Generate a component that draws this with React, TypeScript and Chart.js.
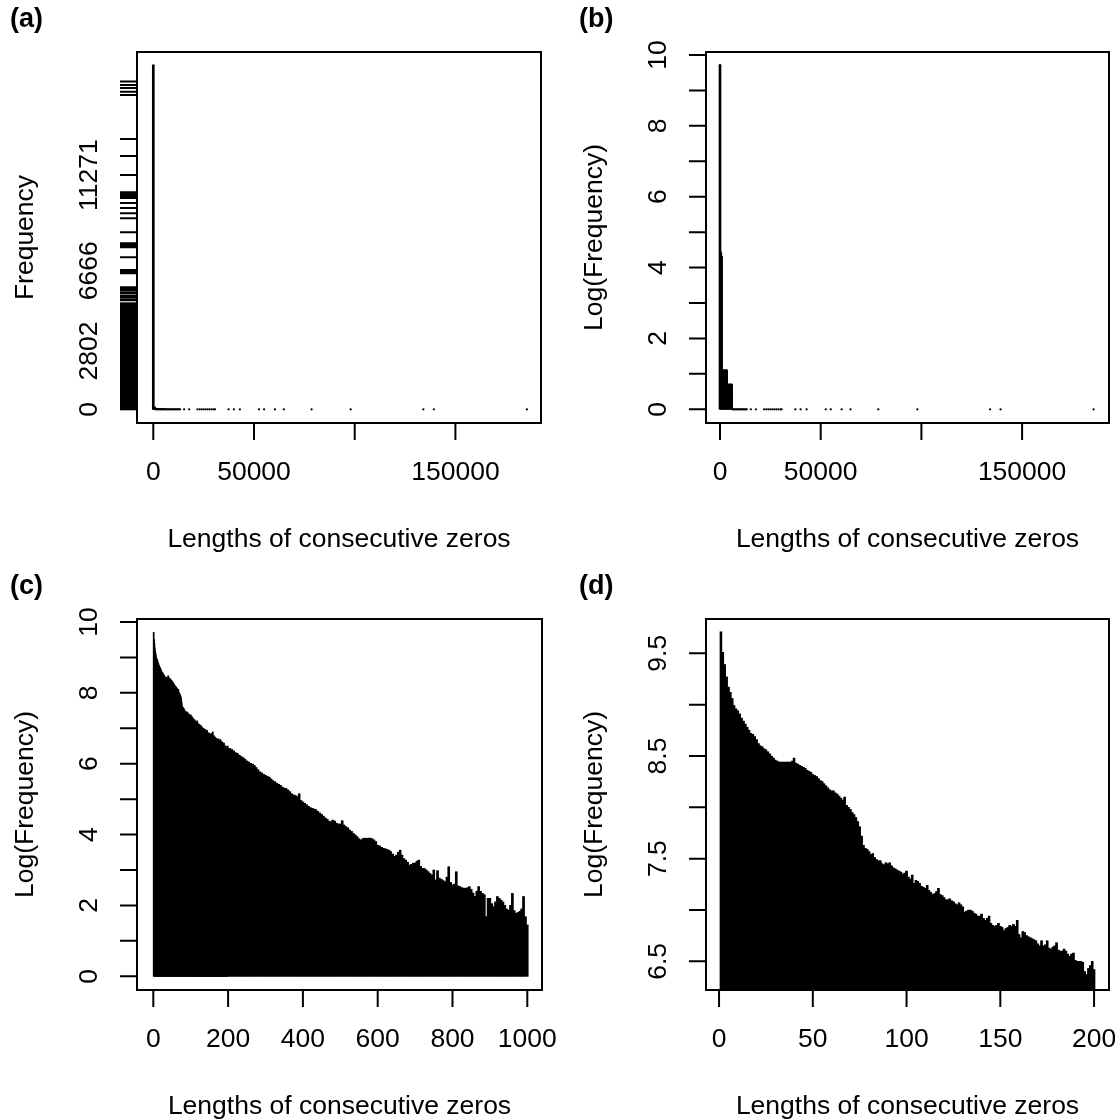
import React, { useEffect, useRef } from "react";
import { Chart, registerables } from "chart.js";

Chart.register(...registerables);

const W = 1115;
const H = 1119;
const FONT = '"Liberation Sans", Arial, Helvetica, sans-serif';

// ---------- data ----------
// Head of the distribution: lengths near zero and their frequencies
const headLengths = [1, 400, 800, 1300, 1800, 2300, 2800, 3300, 3800, 4300, 4800, 5300, 5800];
const headFreq = [16550, 83, 74, 3, 3, 3, 3, 3, 2, 2, 2, 2, 2];
// lengths seen once, forming the continuous baseline
const baseLengths = [6300, 6800, 7300, 7800, 8300, 8800, 9300, 9800, 10300, 10800, 11300, 11800, 12300, 12800, 13260];
const baseFreq = [1, 1, 1, 1, 1, 1, 1, 1, 1, 1, 1, 1, 1, 1, 1];
// sparse long runs (dots)
const tailLengths = [15300, 17800, 21900, 23000, 24000, 25000, 26000, 27000, 28000, 29000, 30000, 30600, 37400, 40000, 43000, 52500, 55000, 60400, 64800, 78600, 98000, 134100, 139300, 185500];
const tailFreq = [1, 1, 1, 1, 1, 1, 1, 1, 1, 1, 1, 1, 1, 1, 1, 1, 1, 1, 1, 1, 1, 1, 1, 1];

// Log(Frequency) for lengths 1..200
const shortLengths = Array.from({ length: 200 }, (_, i) => i + 1);
const shortLogFreq = [
  9.71, 9.51, 9.39, 9.27, 9.17, 9.12, 9.06, 8.99, 8.96, 8.94,
  8.91, 8.87, 8.84, 8.81, 8.78, 8.75, 8.72, 8.71, 8.69, 8.66,
  8.62, 8.60, 8.59, 8.57, 8.56, 8.54, 8.52, 8.50, 8.48, 8.46,
  8.45, 8.44, 8.44, 8.44, 8.44, 8.44, 8.44, 8.44, 8.45, 8.48,
  8.43, 8.42, 8.41, 8.40, 8.39, 8.38, 8.36, 8.35, 8.34, 8.32,
  8.31, 8.30, 8.28, 8.26, 8.25, 8.23, 8.21, 8.19, 8.17, 8.16,
  8.16, 8.14, 8.13, 8.11, 8.09, 8.07, 8.10, 8.02, 8.00, 7.98,
  7.95, 7.93, 7.90, 7.86, 7.81, 7.72, 7.63, 7.60, 7.59, 7.57,
  7.54, 7.55, 7.51, 7.49, 7.48, 7.48, 7.45, 7.44, 7.46, 7.45,
  7.46, 7.43, 7.41, 7.40, 7.39, 7.38, 7.37, 7.35, 7.36, 7.38,
  7.32, 7.30, 7.34, 7.26, 7.29, 7.28, 7.26, 7.23, 7.22, 7.21,
  7.24, 7.19, 7.17, 7.15, 7.16, 7.18, 7.21, 7.15, 7.14, 7.12,
  7.10, 7.10, 7.11, 7.09, 7.08, 7.06, 7.05, 7.07, 7.05, 7.03,
  6.98, 6.99, 7.00, 7.00, 6.99, 6.97, 6.96, 6.94, 6.94, 6.96,
  6.92, 6.90, 6.92, 6.94, 6.87, 6.85, 6.84, 6.85, 6.87, 6.84,
  6.83, 6.80, 6.82, 6.83, 6.85, 6.84, 6.86, 6.84, 6.90, 6.76,
  6.73, 6.79, 6.78, 6.75, 6.74, 6.73, 6.72, 6.71, 6.70, 6.67,
  6.65, 6.70, 6.65, 6.66, 6.70, 6.63, 6.62, 6.64, 6.65, 6.68,
  6.61, 6.60, 6.60, 6.62, 6.60, 6.57, 6.55, 6.57, 6.58, 6.51,
  6.50, 6.50, 6.50, 6.49, 6.40, 6.37, 6.43, 6.46, 6.50, 6.42,
];

// Log(Frequency) for lengths 205..1000 (every 5th length)
const longLengths = Array.from({ length: 160 }, (_, i) => 205 + i * 5);
const longLogFreq = [
  6.43, 6.40, 6.36, 6.31, 6.29, 6.24, 6.20, 6.17, 6.13, 6.08,
  6.05, 6.01, 5.99, 5.95, 5.89, 5.83, 5.77, 5.74, 5.70, 5.67,
  5.64, 5.62, 5.57, 5.52, 5.49, 5.45, 5.42, 5.39, 5.34, 5.31,
  5.30, 5.26, 5.21, 5.15, 5.12, 5.10, 5.07, 5.15, 4.96, 4.92,
  4.88, 4.84, 4.80, 4.76, 4.74, 4.72, 4.70, 4.65, 4.61, 4.57,
  4.52, 4.47, 4.43, 4.38, 4.36, 4.41, 4.38, 4.32, 4.30,
  4.30, 4.39, 4.27, 4.22, 4.19, 4.13, 4.09, 4.03, 3.99, 3.94,
  3.88, 3.85, 3.88, 3.90, 3.89, 3.90, 3.90, 3.88, 3.85, 3.80,
  3.70, 3.68, 3.64, 3.61, 3.60, 3.58, 3.56, 3.52, 3.45, 3.38,
  3.42, 3.50, 3.56, 3.42, 3.32, 3.28, 3.22, 3.14, 3.16, 3.19,
  3.20, 3.25, 3.28, 3.10, 3.05, 3.04, 3.00, 2.95, 2.90, 2.86,
  3.00, 2.72, 2.98, 2.77, 2.74, 2.70, 2.67, 2.80, 3.09, 2.65,
  2.58, 2.60, 2.95, 2.55, 2.53, 2.50, 2.49, 2.48, 2.50, 2.53,
  2.45, 2.35, 2.25, 2.40, 2.53, 2.40, 2.34, 2.30, 1.68, 2.20,
  2.20, 2.05, 1.96, 2.10, 2.25, 2.20, 2.15, 2.10, 2.00, 1.90,
  1.87, 2.00, 2.34, 1.85, 1.78, 1.80, 1.83, 1.90, 2.25, 1.68,
  1.45,
];

// Axis ticks and labels
const bigXTicks = [0, 50000, 100000, 150000];
const bigXLabels = ["0", "50000", "", "150000"];
const freqLabelValues = [0, 2802, 6666, 11271];
const freqLabelTexts = ["0", "2802", "6666", "11271"];
// individual frequency tick marks above the dense block
const freqUpperTicks = [
  15770, 15610, 15460, 15280, 15125, 13006, 12187, 11271, 10450, 10380, 10300,
  10230, 10164, 9923, 9682, 9441, 9200, 8526, 7996, 7900, 7803, 7322, 6700,
  6666, 6600, 6551, 5877, 5800, 5700, 5600, 5480, 5400, 5300, 5250,
];
// ranges of frequencies so dense that their tick marks merge into a block
const freqTickBlocks: [number, number][] = [[0, 4370], [4420, 5100]];
const logTicks = [0, 1, 2, 3, 4, 5, 6, 7, 8, 9, 10];
const logLabelValues = [0, 2, 4, 6, 8, 10];
const cXTicks = [0, 200, 400, 600, 800, 1000];
const dXTicks = [0, 50, 100, 150, 200];
const dYTicks = [6.5, 7, 7.5, 8, 8.5, 9, 9.5];
const dYLabelValues = [6.5, 7.5, 8.5, 9.5];

const X_TITLE = "Lengths of consecutive zeros";

// ---------- helpers ----------
type Spec = {
  tag: string;
  tagX: number;
  tagY: number;
  xTicks: number[];
  xLabels: string[];
  yTicks: number[];
  yBlocks?: [number, number][];
  yLabelValues: number[];
  yLabelTexts: string[];
  yTitle: string;
};

const TICK = 17;

function rPlot(spec: Spec) {
  return {
    id: "rplot-" + spec.tag,
    afterDraw(chart: any) {
      const { ctx, chartArea: a } = chart;
      const x = chart.scales.x;
      const y = chart.scales.y;
      ctx.save();
      ctx.strokeStyle = "#000";
      ctx.fillStyle = "#000";
      ctx.lineWidth = 2;
      ctx.lineCap = "butt";
      ctx.strokeRect(a.left, a.top, a.right - a.left, a.bottom - a.top);
      ctx.beginPath();
      for (const v of spec.xTicks) {
        const px = x.getPixelForValue(v);
        ctx.moveTo(px, a.bottom);
        ctx.lineTo(px, a.bottom + TICK);
      }
      for (const v of spec.yTicks) {
        const py = y.getPixelForValue(v);
        ctx.moveTo(a.left, py);
        ctx.lineTo(a.left - TICK, py);
      }
      ctx.stroke();
      for (const [lo, hi] of spec.yBlocks || []) {
        const p0 = y.getPixelForValue(lo) + 1;
        const p1 = y.getPixelForValue(hi) - 1;
        ctx.fillRect(a.left - TICK, p1, TICK, p0 - p1);
      }

      ctx.font = `26.5px ${FONT}`;
      ctx.textAlign = "center";
      ctx.textBaseline = "alphabetic";
      spec.xLabels.forEach((t, i) => {
        if (!t) return;
        ctx.fillText(t, x.getPixelForValue(spec.xTicks[i]), a.bottom + 57);
      });
      spec.yLabelTexts.forEach((t, i) => {
        const py = y.getPixelForValue(spec.yLabelValues[i]);
        ctx.save();
        ctx.translate(a.left - 40, py);
        ctx.rotate(-Math.PI / 2);
        ctx.fillText(t, 0, 0);
        ctx.restore();
      });
      ctx.fillText(X_TITLE, (a.left + a.right) / 2, a.bottom + 124);
      ctx.save();
      ctx.translate(a.left - 104, (a.top + a.bottom) / 2);
      ctx.rotate(-Math.PI / 2);
      ctx.fillText(spec.yTitle, 0, 0);
      ctx.restore();

      ctx.font = `bold 27px ${FONT}`;
      ctx.textAlign = "left";
      ctx.fillText(spec.tag, spec.tagX, spec.tagY);
      ctx.restore();
    },
  };
}

function pts(xs: number[], ys: number[]) {
  return xs.map((v, i) => ({ x: v, y: ys[i] }));
}

function barSet(data: any[], thickness: number) {
  return {
    type: "bar",
    data,
    backgroundColor: "#000",
    borderWidth: 0,
    barThickness: thickness,
    clip: 0,
  };
}

// solid stepped body underneath the bars, so that adjacent bars never leave seams
function bodySet(data: any[]) {
  return {
    type: "line",
    data,
    stepped: "middle",
    fill: "origin",
    backgroundColor: "#000",
    borderColor: "rgba(0,0,0,0)",
    borderWidth: 0,
    pointRadius: 0,
    pointHoverRadius: 0,
    clip: 0,
  };
}

function dotSet(data: any[]) {
  return {
    type: "line",
    data,
    showLine: false,
    pointRadius: 1.15,
    pointBackgroundColor: "#000",
    pointBorderWidth: 0,
    pointHoverRadius: 0,
  };
}

function makeConfig(
  box: { l: number; t: number; r: number; b: number },
  xr: [number, number],
  yr: [number, number],
  datasets: any[],
  spec: Spec
) {
  return {
    type: "bar",
    data: { datasets },
    options: {
      responsive: false,
      animation: false,
      devicePixelRatio: 1,
      events: [],
      layout: { padding: { left: box.l, top: box.t, right: W - box.r, bottom: H - box.b } },
      plugins: { legend: { display: false }, tooltip: { enabled: false } },
      scales: {
        x: { type: "linear", display: false, min: xr[0], max: xr[1], offset: false, stacked: true },
        y: { type: "linear", display: false, min: yr[0], max: yr[1] },
      },
    },
    plugins: [rPlot(spec)],
  };
}

export default function App() {
  const r1 = useRef<HTMLCanvasElement>(null);
  const r2 = useRef<HTMLCanvasElement>(null);
  const r3 = useRef<HTMLCanvasElement>(null);
  const r4 = useRef<HTMLCanvasElement>(null);

  useEffect(() => {
    const allLengths = [...headLengths, ...baseLengths, ...tailLengths];
    const allFreq = [...headFreq, ...baseFreq, ...tailFreq];
    const headLog = headFreq.map((f) => Math.log(f));
    const allLog = allFreq.map((f) => Math.log(f));
    const shortPts = pts(shortLengths, shortLogFreq);
    const longPts = pts(longLengths, longLogFreq);

    const charts: Chart[] = [];

    charts.push(
      new Chart(
        r1.current as HTMLCanvasElement,
        makeConfig(
          { l: 137, t: 52, r: 541, b: 423 },
          [-8093, 192500],
          [-659, 17195],
          [barSet(pts(headLengths, headFreq), 2), dotSet(pts(allLengths, allFreq))],
          {
            tag: "(a)", tagX: 10, tagY: 27,
            xTicks: bigXTicks, xLabels: bigXLabels,
            yTicks: freqUpperTicks, yBlocks: freqTickBlocks,
            yLabelValues: freqLabelValues, yLabelTexts: freqLabelTexts,
            yTitle: "Frequency",
          }
        ) as any
      )
    );

    charts.push(
      new Chart(
        r2.current as HTMLCanvasElement,
        makeConfig(
          { l: 706, t: 52, r: 1109, b: 423 },
          [-6951, 193148],
          [-0.387, 10.085],
          [barSet(pts(headLengths, headLog), 2), dotSet(pts(allLengths, allLog))],
          {
            tag: "(b)", tagX: 579, tagY: 27,
            xTicks: bigXTicks, xLabels: bigXLabels,
            yTicks: logTicks,
            yLabelValues: logLabelValues, yLabelTexts: logLabelValues.map(String),
            yTitle: "Log(Frequency)",
          }
        ) as any
      )
    );

    charts.push(
      new Chart(
        r3.current as HTMLCanvasElement,
        makeConfig(
          { l: 137, t: 619, r: 542, b: 990 },
          [-43.6, 1039.3],
          [-0.387, 10.085],
          [
            barSet(shortPts, 1.0),
            barSet(longPts, 1.9),
            bodySet([...shortPts, ...longPts]),
          ],
          {
            tag: "(c)", tagX: 10, tagY: 594,
            xTicks: cXTicks, xLabels: cXTicks.map(String),
            yTicks: logTicks,
            yLabelValues: logLabelValues, yLabelTexts: logLabelValues.map(String),
            yTitle: "Log(Frequency)",
          }
        ) as any
      )
    );

    charts.push(
      new Chart(
        r4.current as HTMLCanvasElement,
        makeConfig(
          { l: 706, t: 619, r: 1109, b: 990 },
          [-6.96, 207.96],
          [6.221, 9.834],
          [barSet(shortPts, 1.9), bodySet(shortPts)],
          {
            tag: "(d)", tagX: 579, tagY: 594,
            xTicks: dXTicks, xLabels: dXTicks.map(String),
            yTicks: dYTicks,
            yLabelValues: dYLabelValues, yLabelTexts: dYLabelValues.map((v) => v.toFixed(1)),
            yTitle: "Log(Frequency)",
          }
        ) as any
      )
    );

    return () => charts.forEach((c) => c.destroy());
  }, []);

  const cs: React.CSSProperties = { position: "absolute", left: 0, top: 0, width: W, height: H };
  return (
    <div style={{ position: "absolute", left: 0, top: 0, width: W, height: H, overflow: "hidden", background: "#fff" }}>
      <canvas ref={r1} width={W} height={H} style={cs} />
      <canvas ref={r2} width={W} height={H} style={cs} />
      <canvas ref={r3} width={W} height={H} style={cs} />
      <canvas ref={r4} width={W} height={H} style={cs} />
    </div>
  );
}
